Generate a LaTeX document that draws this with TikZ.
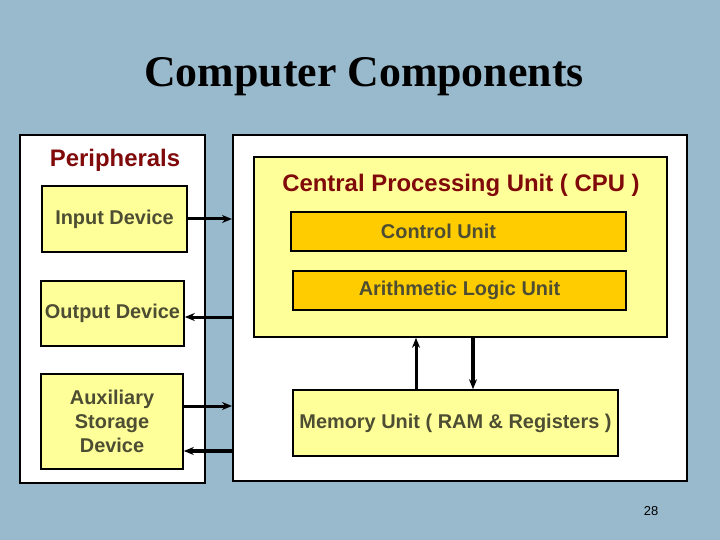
\documentclass[tikz,border=0pt]{standalone}
\usepackage{fontspec}
\setmainfont{Liberation Sans}
\newfontfamily\titlefont{Liberation Serif}
\usetikzlibrary{arrows.meta, positioning}
\definecolor{slideblue}{RGB}{152,186,204}
\definecolor{paleyellow}{RGB}{255,255,153}
\definecolor{unitgold}{RGB}{255,204,0}
\definecolor{headred}{RGB}{128,10,10}
\definecolor{labelgray}{RGB}{77,77,51}

\begin{document}
\begin{tikzpicture}[x=1bp, y=-1bp,
    panel/.style={draw, line width=2bp, fill=white, inner sep=0pt},
    devbox/.style={draw, line width=1.6bp, fill=paleyellow, text=labelgray,
      font=\fontsize{20}{24}\selectfont\bfseries, align=center, inner sep=0pt},
    unitbox/.style={devbox, fill=unitgold},
    heading/.style={text=headred, font=\fontsize{24}{28}\selectfont\bfseries, anchor=base},
    arr/.style={line width=3bp, -{Stealth[length=10bp, width=8bp]}}]
  \fill[slideblue] (0,0) rectangle (720,540);
  \useasboundingbox (0,0) rectangle (720,540);

  \node[anchor=base] (title) at (364,87)
    {\titlefont\bfseries\fontsize{44}{50}\selectfont Computer Components};

  % peripherals side
  \node[panel, minimum width=185bp, minimum height=348bp] (periph) at (112.5,309) {};
  \node[heading] (periphlbl) at (115,167) {Peripherals};
  \node[devbox, minimum width=145bp, minimum height=66bp] (input) at (114.5,219) {Input Device};
  \node[devbox, minimum width=143bp, minimum height=65bp] (output) at (112.5,313.5) {Output Device};
  \node[devbox, minimum width=142bp, minimum height=95bp] (aux) at (112,421.5)
    {Auxiliary\\Storage\\Device};

  % computer side
  \node[panel, minimum width=454bp, minimum height=346bp] (main) at (460,308) {};
  \node[devbox, minimum width=413bp, minimum height=180bp] (cpu) at (460.5,247) {};
  \node[heading] (cpulbl) at (461,192) {Central Processing Unit ( CPU )};
  \node[unitbox, minimum width=335bp, minimum height=39bp,
    label={[text=labelgray, font=\fontsize{20}{24}\selectfont\bfseries, xshift=-20bp]center:Control Unit}]
    (ctrl) at (458.5,231.5) {};
  \node[unitbox, minimum width=333bp, minimum height=39bp] (alu) at (459.5,290.5) {Arithmetic Logic Unit};
  \node[devbox, minimum width=325bp, minimum height=66bp] (mem) at (455.5,423)
    {Memory Unit ( RAM \& Registers )};

  % connections
  \draw[arr] (input.east) -- (input.east -| main.west);
  \draw[arr] ([yshift=-3.5bp]output.east -| main.west) -- ([yshift=-3.5bp]output.east);
  \draw[arr] ([yshift=15.5bp]aux.east) -- ([yshift=15.5bp]aux.east -| main.west);
  \draw[arr, line width=3.8bp] ([yshift=-29.5bp]aux.east -| main.west) -- ([yshift=-29.5bp]aux.east);
  \draw[arr] (mem.north -| 416,0) -- (cpu.south -| 416,0);
  \draw[arr, line width=3.6bp] (cpu.south -| 473,0) -- (mem.north -| 473,0);

  \node[anchor=base, font=\fontsize{13}{15}\selectfont] (pageno) at (651,515) {28};
\end{tikzpicture}
\end{document}
